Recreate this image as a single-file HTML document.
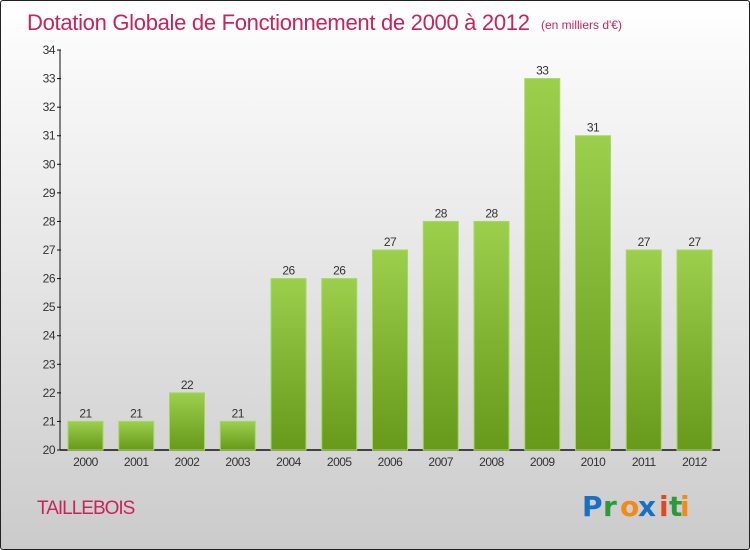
<!DOCTYPE html>
<html><head><meta charset="utf-8"><style>
html,body{margin:0;padding:0}
body{width:750px;height:550px;overflow:hidden;font-family:"Liberation Sans",sans-serif}
#wrap{position:absolute;left:0;top:0;width:748px;height:548px;border:1px solid #222;border-radius:3px;background:linear-gradient(#ffffff,#f2f2f2 25%,#cbcbcb)}
</style></head><body>
<div id="wrap">
<svg width="750" height="550" style="position:absolute;left:-1px;top:-1px">
<defs><linearGradient id="g" x1="0" y1="0" x2="0" y2="1"><stop offset="0" stop-color="#9ccf4c"/><stop offset="1" stop-color="#67991a"/></linearGradient></defs>
<text x="27" y="30" font-size="22" fill="#c8245a" style="letter-spacing:-0.3px">Dotation Globale de Fonctionnement de 2000 à 2012</text>
<text x="541" y="29" font-size="12" fill="#c8245a">(en milliers d'€)</text>
<g id="axes"></g><g id="bars"></g>
<text x="37" y="514" font-size="19" fill="#c8245a" style="letter-spacing:-1px">TAILLEBOIS</text>
<g font-size="28" font-weight="bold" font-family="'DejaVu Sans',sans-serif">
<text x="582" y="516" fill="#1a6fc4">P</text><text x="603" y="516" fill="#2a9a3a">r</text><text x="620" y="516" fill="#f08a1a">o</text><text x="638" y="516" fill="#1a6fc4">x</text><text x="659" y="516" fill="#e04a1a">i</text><text x="669" y="516" fill="#2a9a3a">t</text><text x="680" y="516" fill="#f08a1a">i</text></g>
</svg></div>
<script>
const categories=["2000","2001","2002","2003","2004","2005","2006","2007","2008","2009","2010","2011","2012"];
const values=[21,21,22,21,26,26,27,28,28,33,31,27,27];
const yTicks=[20,21,22,23,24,25,26,27,28,29,30,31,32,33,34];
const NS="http://www.w3.org/2000/svg";
const y=v=>450-(v-20)*28.57;
const x=i=>85.5+i*50.75;
function mk(t,a,p){const e=document.createElementNS(NS,t);for(const k in a)e.setAttribute(k,a[k]);p.appendChild(e);return e;}
const ax=document.getElementById('axes'),bg=document.getElementById('bars');
const yl=mk('line',{x1:60,y1:50,x2:60,y2:450,stroke:'#111','stroke-width':1},ax);


const xl=mk('line',{x1:60,y1:450,x2:720,y2:450,stroke:'#111','stroke-width':1.5},ax);


yTicks.forEach(v=>{
 mk('line',{x1:57,y1:y(v),x2:61,y2:y(v),stroke:'#111'},ax);
 const t=mk('text',{x:55,y:y(v)+4,'text-anchor':'end','font-size':12,fill:'#333','letter-spacing':'-0.5'},ax);
 t.textContent=v;
 
 
});
categories.forEach((c,i)=>{
 const r=mk('rect',{x:x(i)-17.5,y:y(values[i]),width:35,height:450-y(values[i]),fill:'url(#g)',stroke:'#a6d861','stroke-width':1},bg);
 
 
 const l=mk('text',{x:x(i),y:y(values[i])-4,'text-anchor':'middle','font-size':12,fill:'#333','letter-spacing':'-0.5'},bg);
 l.textContent=values[i];
 
 
 const xt=mk('text',{x:x(i),y:466,'text-anchor':'middle','font-size':12,fill:'#333','letter-spacing':'-0.5'},bg);
 xt.textContent=c;
 
 
});
</script>
</body></html>
